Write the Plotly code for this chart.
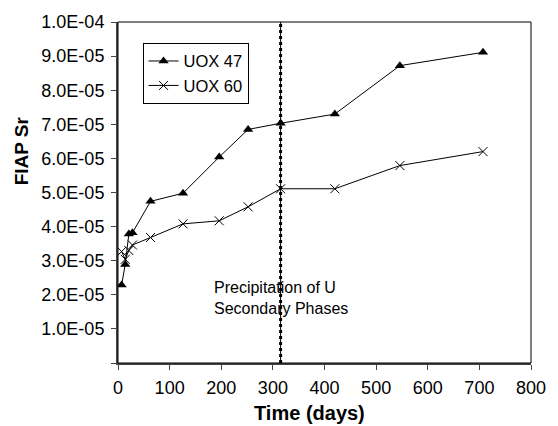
import plotly.graph_objects as go

# Leaching time (days) and fraction of inventory in aqueous phase for Sr
days = [7, 14, 21, 28, 63, 126, 196, 252, 315, 420, 546, 707]
uox47 = [2.29e-5, 2.89e-5, 3.78e-5, 3.82e-5, 4.74e-5, 4.98e-5,
         6.04e-5, 6.85e-5, 7.03e-5, 7.30e-5, 8.72e-5, 9.11e-5]
uox60 = [3.27e-5, 3.04e-5, 3.30e-5, 3.46e-5, 3.68e-5, 4.08e-5,
         4.17e-5, 4.58e-5, 5.11e-5, 5.11e-5, 5.79e-5, 6.20e-5]

# Onset of U secondary phase precipitation (days)
precip_day = 315

y_tickvals = [0, 1e-5, 2e-5, 3e-5, 4e-5, 5e-5, 6e-5, 7e-5, 8e-5, 9e-5, 1e-4]
y_ticktext = ["", "1.0E-05", "2.0E-05", "3.0E-05", "4.0E-05", "5.0E-05",
              "6.0E-05", "7.0E-05", "8.0E-05", "9.0E-05", "1.0E-04"]
x_tickvals = [0, 100, 200, 300, 400, 500, 600, 700, 800]

FONT = "Liberation Sans, Arial, sans-serif"
PLOT_W, PLOT_H = 421, 345

fig = go.Figure()
fig.add_trace(go.Scatter(
    x=days, y=uox47, name="UOX 47", mode="lines+markers",
    line=dict(color="black", width=1),
    marker=dict(symbol="triangle-up", size=9, color="black"),
))
fig.add_trace(go.Scatter(
    x=days, y=uox60, name="UOX 60", mode="lines+markers",
    line=dict(color="black", width=1),
    marker=dict(symbol="x-thin", size=9, color="black",
                line=dict(color="black", width=1)),
))

# plot frame
fig.add_shape(type="rect", xref="paper", yref="paper", x0=0, x1=1, y0=0, y1=1,
              line=dict(color="black", width=1), layer="above")
# precipitation marker line
fig.add_shape(type="line", xref="x", yref="paper", x0=precip_day, x1=precip_day,
              y0=0, y1=1, line=dict(color="black", width=3, dash="dot"))
fig.add_shape(type="line", xref="x", yref="paper", x0=precip_day, x1=precip_day,
              y0=0, y1=1, line=dict(color="black", width=1))

fig.add_annotation(
    text="Precipitation of U<br>Secondary Phases",
    xref="x", yref="paper", x=182, y=(363 - 297) / PLOT_H,
    xanchor="left", yanchor="middle",
    align="left", showarrow=False,
    font=dict(family=FONT, size=16, color="black"),
)
# axis titles
fig.add_annotation(
    text="<b>Time (days)</b>", xref="paper", yref="paper",
    x=(313 - 118) / PLOT_W, y=-(414 - 363) / PLOT_H,
    xanchor="center", yanchor="middle",
    showarrow=False, font=dict(family=FONT, size=20, color="black"),
)
fig.add_annotation(
    text="<b>FIAP Sr</b>", xref="paper", yref="paper", textangle=-90,
    x=-(118 - 20) / PLOT_W, y=(363 - 148) / PLOT_H,
    xanchor="center", yanchor="middle",
    showarrow=False, font=dict(family=FONT, size=19, color="black"),
)

fig.update_layout(
    width=558, height=426,
    margin=dict(l=118, r=19, t=18, b=63),
    paper_bgcolor="white", plot_bgcolor="white",
    font=dict(family=FONT, size=18, color="black"),
    showlegend=True,
    legend=dict(
        x=(143 - 118) / PLOT_W, y=(363 - 39) / PLOT_H,
        xanchor="left", yanchor="top",
        bgcolor="white", bordercolor="black", borderwidth=1,
        font=dict(family=FONT, size=16.5, color="black"),
        tracegroupgap=0, itemwidth=30,
    ),
    xaxis=dict(
        range=[0, 800], tickvals=x_tickvals, ticks="outside", ticklen=5,
        tickcolor="#444", showgrid=False, zeroline=False,
        showline=True, linecolor="#444", linewidth=2,
        tickfont=dict(size=18), ticklabelstandoff=2,
    ),
    yaxis=dict(
        range=[0, 1e-4], tickvals=y_tickvals, ticktext=y_ticktext,
        ticks="outside", ticklen=5, tickcolor="#444", showgrid=False,
        zeroline=False, showline=True, linecolor="#444", linewidth=2,
        tickfont=dict(size=18), ticklabelstandoff=3,
    ),
)

fig.write_html("out.html")
